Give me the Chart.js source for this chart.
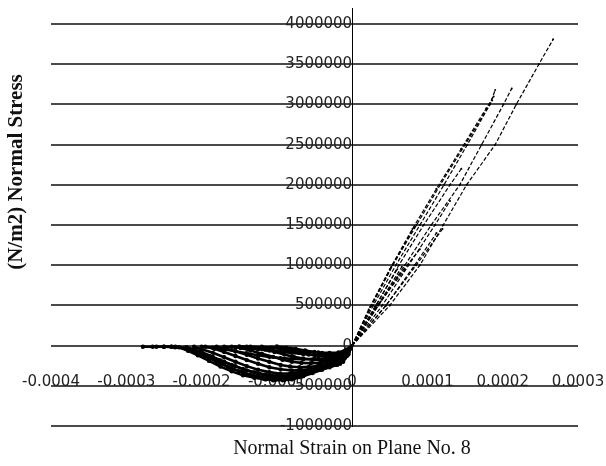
<!DOCTYPE html>
<html>
<head>
<meta charset="utf-8">
<script src="https://cdn.jsdelivr.net/npm/chart.js@4/dist/chart.umd.min.js"></script>
<style>
  html, body { margin: 0; padding: 0; background: #fff; }
</style>
</head>
<body>
<canvas id="stressChart" width="606" height="466"></canvas>
<script>
"use strict";

// axis ticks
var strainTicks = [-0.0004, -0.0003, -0.0002, -0.0001, 0, 0.0001, 0.0002, 0.0003];
var strainTickLabels = ['-0.0004', '-0.0003', '-0.0002', '-0.0001', '0', '0.0001', '0.0002', '0.0003'];
var stressTicks = [-1000000, -500000, 0, 500000, 1000000, 1500000, 2000000, 2500000, 3000000, 3500000, 4000000];

// curves (strain, stress N/m2)
var strain1 = [-0.000278, -0.00026, -0.00024, -0.00022, -0.000205, -0.00019, -0.000175, -0.00016, -0.000145, -0.00013, -0.000118, -0.000105, -0.000092, -0.00008, -0.000068, -0.000055, -0.000042, -0.00003, -0.00002, -0.000012, -0.000005, 0, 0.00005, 0.00009, 0.000121, 0.000152, 0.00019, 0.000218, 0.000248, 0.000267];
var stress1 = [-15000, -15000, -15000, -30000, -90000, -150000, -220000, -280000, -335000, -380000, -410000, -430000, -430000, -420000, -385000, -340000, -300000, -260000, -230000, -200000, -110000, 0, 500000, 1000000, 1500000, 2000000, 2500000, 3000000, 3500000, 3810000];

var strain2 = [-0.00022, -0.00021, -0.0002, -0.000185, -0.00017, -0.000155, -0.00014, -0.000125, -0.00011, -0.0000975, -0.000085, -0.0000725, -0.00006, -0.0000475, -0.000035, -0.000025, -0.000015, -0.000007, 0, 0.000035, 0.00007, 0.000105, 0.000143, 0.000172, 0.000201, 0.000212];
var stress2 = [-20000, -45000, -80000, -140000, -200000, -255000, -310000, -350000, -380000, -390000, -390000, -365000, -330000, -295000, -260000, -230000, -200000, -120000, 0, 500000, 1000000, 1500000, 2000000, 2500000, 3000000, 3200000];

var strain3 = [-0.00021, -0.0002, -0.000185, -0.00017, -0.000155, -0.00014, -0.000125, -0.00011, -0.000095, -0.0000825, -0.00007, -0.0000575, -0.000045, -0.0000325, -0.00002, -0.00001, 0, 0.000026, 0.000054, 0.0000855, 0.000117, 0.00015, 0.000183, 0.00019];
var stress3 = [-15000, -45000, -90000, -145000, -200000, -255000, -300000, -330000, -350000, -345000, -330000, -305000, -280000, -250000, -220000, -140000, 0, 500000, 1000000, 1500000, 2000000, 2500000, 3000000, 3180000];

var strain4 = [-0.000195, -0.000183, -0.00017, -0.000155, -0.00014, -0.000125, -0.00011, -0.000095, -0.00008, -0.0000675, -0.000055, -0.0000425, -0.00003, -0.00002, -0.000012, -0.000005, 0, 0.000028, 0.000058, 0.00009, 0.000122, 0.000153, 0.000186];
var stress4 = [-15000, -40000, -80000, -130000, -180000, -225000, -270000, -295000, -310000, -305000, -290000, -265000, -240000, -210000, -180000, -100000, 0, 500000, 1000000, 1500000, 2000000, 2500000, 3050000];

var strain5 = [-0.00018, -0.000168, -0.000155, -0.00014, -0.000125, -0.00011, -0.000095, -0.0000825, -0.00007, -0.0000575, -0.000045, -0.0000335, -0.000022, -0.00001, 0, 0.000032, 0.000062, 0.000095, 0.00013, 0.000145];
var stress5 = [-15000, -35000, -70000, -115000, -160000, -200000, -240000, -260000, -270000, -265000, -250000, -230000, -210000, -130000, 0, 500000, 1000000, 1500000, 2000000, 2200000];

var strain6 = [-0.00016, -0.000148, -0.000135, -0.00012, -0.000105, -0.0000925, -0.00008, -0.0000675, -0.000055, -0.0000425, -0.00003, -0.00002, -0.000012, -0.000005, 0, 0.00004, 0.000075, 0.00011, 0.00013];
var stress6 = [-15000, -30000, -60000, -100000, -140000, -175000, -200000, -215000, -220000, -215000, -200000, -180000, -150000, -80000, 0, 500000, 1000000, 1500000, 1800000];

var strain7 = [-0.00014, -0.000128, -0.000115, -0.000103, -0.00009, -0.0000775, -0.000065, -0.0000525, -0.00004, -0.00003, -0.00002, -0.00001, 0, 0.000045, 0.000083, 0.000112];
var stress7 = [-15000, -25000, -50000, -80000, -110000, -140000, -160000, -175000, -180000, -175000, -160000, -100000, 0, 500000, 1000000, 1400000];

var strain8 = [-0.00012, -0.000108, -0.000095, -0.0000825, -0.00007, -0.0000575, -0.000045, -0.0000335, -0.000022, -0.000015, -0.000008, 0, 0.00003, 0.00006, 0.00009];
var stress8 = [-15000, -25000, -40000, -65000, -90000, -110000, -130000, -140000, -140000, -125000, -100000, 0, 450000, 850000, 1200000];

var strain9 = [-0.0001, -0.0000875, -0.000075, -0.0000625, -0.00005, -0.00004, -0.00003, -0.00002, -0.000012, -0.000005, 0, 0.000038, 0.00007];
var stress9 = [-10000, -25000, -40000, -60000, -80000, -92000, -100000, -100000, -90000, -50000, 0, 550000, 950000];

var strain10 = [-0.00025, -0.00024, -0.00023, -0.000218, -0.000205, -0.00019, -0.000175, -0.00016, -0.000145, -0.00013, -0.000115, -0.0001025, -0.00009, -0.0000775, -0.000065, -0.0000525, -0.00004, -0.00003, -0.00002, -0.00001, 0, 0.000022, 0.00005, 0.00008, 0.000112, 0.000145, 0.000178, 0.000188];
var stress10 = [-15000, -15000, -20000, -65000, -120000, -190000, -260000, -320000, -370000, -400000, -420000, -425000, -425000, -405000, -380000, -340000, -300000, -270000, -240000, -150000, 0, 450000, 950000, 1450000, 1950000, 2450000, 2950000, 3100000];

var strain11 = [-0.000235, -0.000222, -0.00021, -0.000195, -0.00018, -0.000165, -0.00015, -0.000135, -0.00012, -0.000105, -0.00009, -0.000075, -0.00006, -0.000045, -0.000032, -0.00002, -0.00001, 0, 0.000024, 0.000052, 0.000083];
var stress11 = [-15000, -30000, -70000, -130000, -200000, -265000, -320000, -365000, -395000, -410000, -405000, -380000, -340000, -295000, -260000, -225000, -150000, 0, 480000, 980000, 1480000];

var strain12 = [-0.0002, -0.000185, -0.00017, -0.000155, -0.00014, -0.000125, -0.00011, -0.000095, -0.00008, -0.000065, -0.00005, -0.000035, -0.000022, -0.00001, 0, 0.00003, 0.00006];
var stress12 = [-15000, -25000, -45000, -70000, -95000, -120000, -140000, -155000, -165000, -170000, -165000, -160000, -150000, -90000, 0, 480000, 950000];

var strain13 = [-0.00017, -0.000155, -0.00014, -0.000125, -0.00011, -0.000095, -0.00008, -0.000065, -0.00005, -0.000035, -0.000022, -0.00001, 0, 0.000034, 0.000066];
var stress13 = [-15000, -20000, -30000, -45000, -60000, -75000, -90000, -105000, -115000, -120000, -115000, -70000, 0, 500000, 980000];

var strain14 = [-0.000265, -0.00025, -0.000235, -0.00022, -0.000205, -0.00019, -0.000175, -0.00016, -0.000145, -0.00013, -0.000115, -0.0001, -0.000085, -0.00007, -0.000055, -0.00004, -0.000028, -0.000016, -0.000007, 0, 0.000045, 0.000085, 0.00012];
var stress14 = [-15000, -15000, -20000, -40000, -80000, -130000, -185000, -240000, -290000, -330000, -360000, -375000, -375000, -360000, -330000, -290000, -255000, -225000, -130000, 0, 500000, 1000000, 1450000];

var strain15 = [-0.00015, -0.000135, -0.00012, -0.000105, -0.00009, -0.000075, -0.00006, -0.000045, -0.00003, -0.000018, -0.000008, 0];
var stress15 = [-10000, -15000, -20000, -30000, -45000, -60000, -75000, -85000, -90000, -85000, -50000, 0];

var curves = [
	[strain1, stress1], [strain2, stress2], [strain3, stress3], [strain4, stress4], [strain5, stress5],
	[strain6, stress6], [strain7, stress7], [strain8, stress8], [strain9, stress9], [strain10, stress10],
	[strain11, stress11], [strain12, stress12], [strain13, stress13], [strain14, stress14], [strain15, stress15]
];

function toPoints(xs, ys) {
	return xs.map(function (x, i) { return { x: x, y: ys[i] }; });
}

var datasets = curves.map(function (c, i) {
	return {
		label: 'Element ' + (i + 1),
		data: toPoints(c[0], c[1]),
		showLine: true,
		borderColor: '#000',
		borderWidth: 1.2,
		pointRadius: function (p) { return p.raw && p.raw.x < 0 ? 2.2 : 1; },
		pointBackgroundColor: '#000',
		pointBorderWidth: 0,
		segment: {
			borderDash: function (s) { return s.p0.parsed.x >= 0 ? [4, 2] : undefined; },
			borderWidth: function (s) { return s.p0.parsed.x >= 0 ? 1.2 : 2.6; }
		}
	};
});

/*******************
   AXIS TITLES
*******************/

var axisTitles = {
	id: 'axisTitles',
	afterDraw: function (chart) {
		var c = chart.ctx;
		c.save();
		c.fillStyle = '#111';
		c.textAlign = 'center';
		c.textBaseline = 'middle';
		c.font = '20px "Liberation Serif"';
		c.fillText('Normal Strain on Plane No. 8', 352, 449);
		c.translate(17, 172);
		c.rotate(-Math.PI / 2);
		c.font = 'bold 21px "Liberation Serif"';
		c.fillText('(N/m2) Normal Stress', 0, 0);
		c.restore();
	}
};

// axes sit inside the plot, so drop the label overflow padding
function noOverflow(scale) {
	scale.paddingLeft = 0;
	scale.paddingRight = 0;
	scale.paddingTop = 0;
	scale.paddingBottom = 0;
}

var tickFont = { family: '"DejaVu Sans"', size: 15 };

var ctx = document.getElementById('stressChart');

var stressChart = new Chart(ctx, {
	type: 'scatter',
	data: { datasets: datasets },
	plugins: [axisTitles],
	options: {
		responsive: false,
		animation: false,
		layout: { padding: { left: 51, right: 28, top: 8, bottom: 40 } },
		plugins: {
			legend: { display: false },
			tooltip: { enabled: false }
		},
		scales: {
			x: {
				type: 'linear',
				position: { y: 0 },
				min: -0.0004,
				max: 0.0003,
				afterBuildTicks: function (axis) {
					axis.ticks = strainTicks.map(function (v) { return { value: v }; });
				},
				afterFit: noOverflow,
				ticks: {
					autoSkip: false,
					maxRotation: 0,
					padding: 27,
					color: '#222',
					font: tickFont,
					callback: function (v, i) { return strainTickLabels[i]; }
				},
				grid: { display: false, drawTicks: false },
				border: { display: false }
			},
			y: {
				type: 'linear',
				position: { x: 0 },
				min: -1000000,
				max: 4200000,
				afterBuildTicks: function (axis) {
					axis.ticks = stressTicks.map(function (v) { return { value: v }; });
				},
				afterFit: noOverflow,
				ticks: {
					autoSkip: false,
					padding: 18,
					color: '#222',
					font: tickFont,
					callback: function (v) { return String(v); }
				},
				grid: { color: '#4a4a4a', lineWidth: 2, drawTicks: false },
				border: { display: true, color: '#000', width: 1 }
			}
		}
	}
});
</script>
</body>
</html>
